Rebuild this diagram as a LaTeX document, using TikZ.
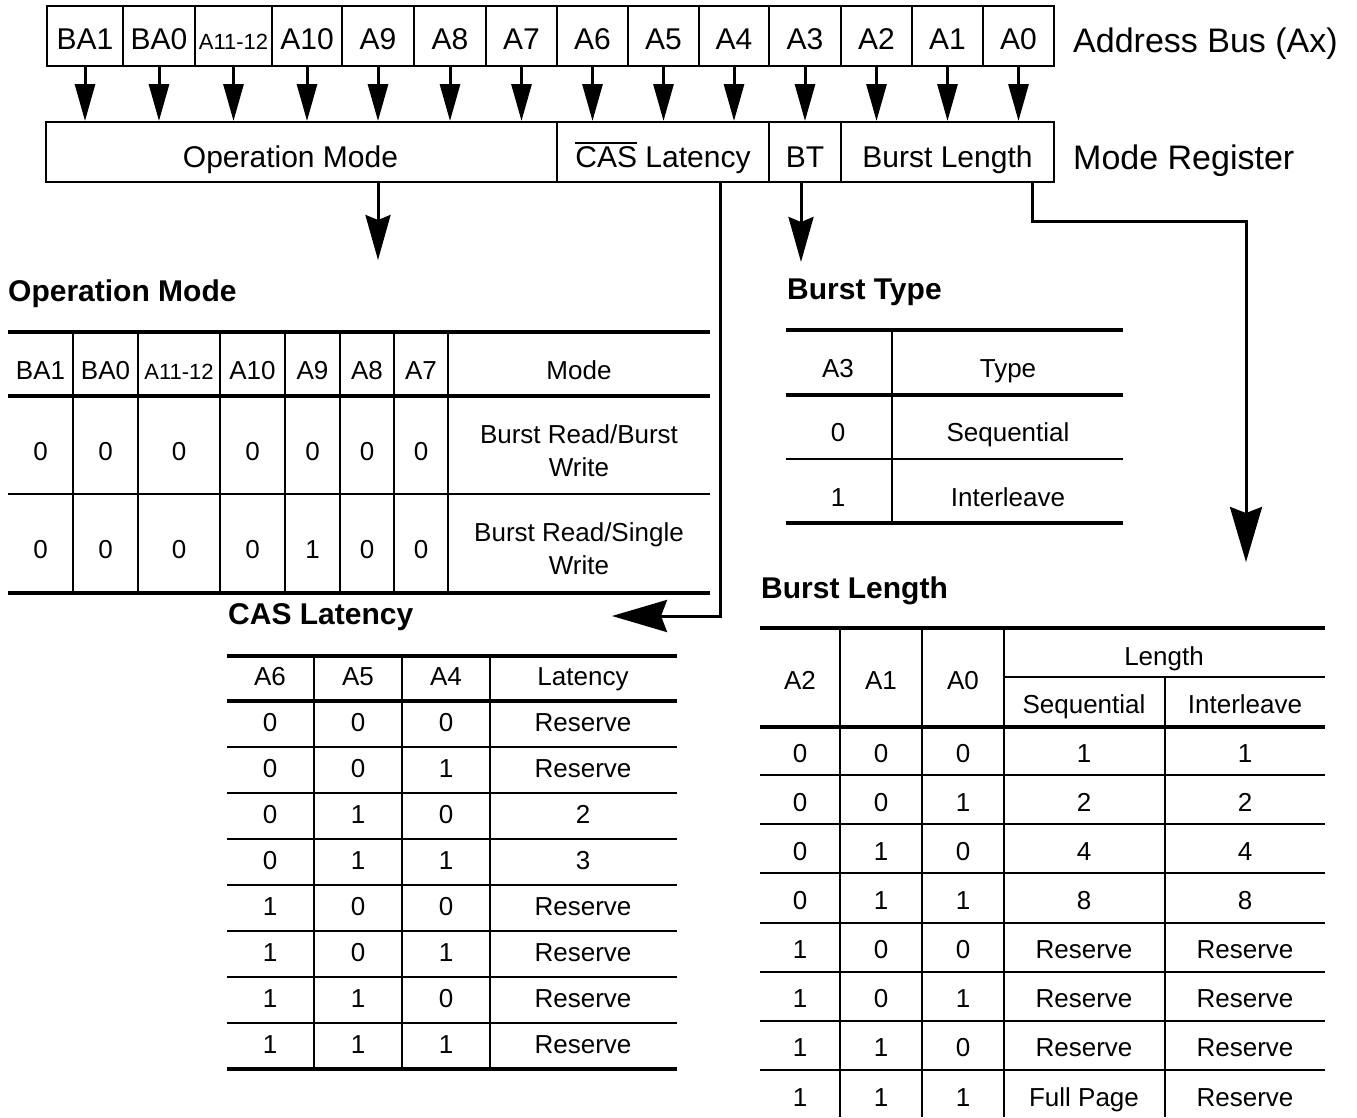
\documentclass[tikz,border=0pt]{standalone}
\usepackage{fontspec}
\setmainfont{Liberation Sans}
\usetikzlibrary{arrows.meta}
\newcommand\barred[1]{\setbox0\hbox{#1}\rlap{\rule[\dimexpr\ht0+3pt\relax]{\wd0}{2pt}}\box0\relax}
\tikzset{
  bus/.style={draw, line width=2pt, inner sep=0pt, minimum height=60pt, text height=27.5pt, text depth=0pt, font=\fontsize{30}{34}\selectfont},
  reg/.style={draw, line width=2pt, inner sep=0pt, minimum height=60pt, text height=31.5pt, text depth=0pt, font=\fontsize{30}{34}\selectfont},
  tt/.style={font=\fontsize{26}{30}\selectfont, inner sep=0pt, anchor=base, yshift=-9.3pt},
  ttl/.style={font=\bfseries\fontsize{30}{34}\selectfont, inner sep=0pt, anchor=base west, yshift=-10.7pt},
  side/.style={font=\fontsize{34}{38}\selectfont, inner sep=0pt, anchor=base west, yshift=-12.2pt},
  tabthick/.style={line width=4pt},
  tabthin/.style={line width=2pt},
  busarrow/.style={line width=3pt, -{Triangle[length=37pt,width=20pt]}},
  bigarrow/.style={line width=3pt, -{Stealth[length=45pt,width=25pt,inset=5pt]}},
  hugearrow/.style={line width=3pt, -{Stealth[length=55pt,width=32pt,inset=6pt]}},
}
\begin{document}
\begin{tikzpicture}[x=1pt,y=-1pt]
\useasboundingbox (0,0) rectangle (1357,1117);
\fill[white] (0,0) rectangle (1357,1117);

% ---------- address bus ----------
\foreach \l/\r/\t [count=\i] in {47/123/BA1,123/195/BA0,195/272/{\fontsize{22}{26}\selectfont A11-12},272/342/A10,342/414/A9,414/486/A8,486/557/A7,557/628/A6,628/699/A5,699/769/A4,769/841/A3,841/912/A2,912/983/A1,983/1054/A0}{
  \pgfmathsetmacro\w{\r-\l}
  \pgfmathsetmacro\cx{(\l+\r)/2}
  \node[bus, minimum width=\w pt] (b\i) at (\cx,36) {\t};
}
\node[side] (addrlbl) at (1073,40) {Address Bus (Ax)};

% ---------- mode register ----------
\node[reg, minimum width=511pt] (rOM) at (301.5,152) {\hspace*{-22pt}Operation Mode};
\node[reg, minimum width=212pt] (rCAS) at (663,152) {\barred{CAS} Latency};
\node[reg, minimum width=72pt] (rBT) at (805,152) {BT};
\node[reg, minimum width=213pt] (rBL) at (947.5,152) {Burst Length};
\node[side] (modelbl) at (1073,157) {Mode Register};

\foreach \i in {1,...,14}{
  \draw[busarrow] (b\i.south) -- (b\i.south |- rOM.north);
}

% ---------- lower connectors ----------
\coordinate (omEnd) at (378,260);
\draw[bigarrow] (omEnd |- rOM.south) -- (omEnd);
\coordinate (btEnd) at (801,262);
\draw[bigarrow] (btEnd |- rBT.south) -- (btEnd);
\coordinate (casX) at (720,0);
\coordinate (casEnd) at (612,616);
\draw[hugearrow] (casX |- rCAS.south) |- (casEnd);
\coordinate (blX) at (1032,0);
\coordinate (blEnd) at (1246,562);
\draw[hugearrow] (blX |- rBL.south) -- ++(0,38) -| (blEnd);

% ---------- Operation Mode table ----------
\node[ttl] (omTitle) at (8,291) {Operation Mode};
\draw[tabthick] (8,332) -- (710,332) (8,396) -- (710,396) (8,593) -- (710,593);
\draw[tabthin] (8,494) -- (710,494);
\foreach \x in {73,138,220,285,340,394,448} \draw[tabthin] (\x,332) -- (\x,593);
\foreach \x/\t [count=\i] in {40.5/BA1,105.5/BA0,179/{\fontsize{22}{26}\selectfont A11-12},252.5/A10,312.5/A9,367/A8,421/A7,579/Mode}
  \node[tt] (omh\i) at (\x,370) {\t};
\foreach \x/\v [count=\i] in {40.5/0,105.5/0,179/0,252.5/0,312.5/0,367/0,421/0}
  \node[tt] (oma\i) at (\x,451) {\v};
\foreach \x/\v [count=\i] in {40.5/0,105.5/0,179/0,252.5/0,312.5/1,367/0,421/0}
  \node[tt] (omb\i) at (\x,549) {\v};
\node[tt] (omm1) at (579,434) {Burst Read/Burst};
\node[tt] (omm2) at (579,467) {Write};
\node[tt] (omm3) at (579,532) {Burst Read/Single};
\node[tt] (omm4) at (579,565) {Write};

% ---------- Burst Type table ----------
\node[ttl] (btTitle) at (787,289) {Burst Type};
\draw[tabthick] (786,330) -- (1123,330) (786,395) -- (1123,395) (786,523) -- (1123,523);
\draw[tabthin] (786,459) -- (1123,459);
\draw[tabthin] (892,330) -- (892,523);
\node[tt] (bth1) at (838,368) {A3};
\node[tt] (bth2) at (1008,368) {Type};
\node[tt] (bta1) at (838,432) {0};
\node[tt] (bta2) at (1008,432) {Sequential};
\node[tt] (btb1) at (838,497) {1};
\node[tt] (btb2) at (1008,497) {Interleave};

% ---------- CAS Latency table ----------
\node[ttl] (casTitle) at (228,614) {CAS Latency};
\draw[tabthick] (227,656) -- (677,656) (227,701) -- (677,701) (227,1069) -- (677,1069);
\foreach \y in {747,793,839,885,931,977,1023} \draw[tabthin] (227,\y) -- (677,\y);
\foreach \x in {314,402,490} \draw[tabthin] (\x,656) -- (\x,1069);
\foreach \x/\t [count=\i] in {270/A6,358/A5,446/A4,583/Latency}
  \node[tt] (cash\i) at (\x,676) {\t};
\foreach \a/\b/\c/\v [count=\k from 0] in {0/0/0/Reserve,0/0/1/Reserve,0/1/0/2,0/1/1/3,1/0/0/Reserve,1/0/1/Reserve,1/1/0/Reserve,1/1/1/Reserve}{
  \pgfmathsetmacro\yy{722+46*\k}
  \node[tt] (casa\k) at (270,\yy) {\a};
  \node[tt] (casb\k) at (358,\yy) {\b};
  \node[tt] (casc\k) at (446,\yy) {\c};
  \node[tt] (casd\k) at (583,\yy) {\v};
}

% ---------- Burst Length table ----------
\node[ttl] (blTitle) at (761,588) {Burst Length};
\draw[tabthick] (760,628) -- (1325,628) (760,727) -- (1325,727);
\draw[tabthin] (1004,677) -- (1325,677);
\foreach \y in {775,824,873,923,972,1021,1070} \draw[tabthin] (760,\y) -- (1325,\y);
\foreach \x in {840,922,1004} \draw[tabthin] (\x,628) -- (\x,1117);
\draw[tabthin] (1165,677) -- (1165,1117);
\node[tt] (blh1) at (800,680) {A2};
\node[tt] (blh2) at (881,680) {A1};
\node[tt] (blh3) at (963,680) {A0};
\node[tt] (blh4) at (1164,656) {Length};
\node[tt] (blh5) at (1084,704) {Sequential};
\node[tt] (blh6) at (1245,704) {Interleave};
\foreach \a/\b/\c/\s/\t [count=\k from 0] in {0/0/0/1/1,0/0/1/2/2,0/1/0/4/4,0/1/1/8/8,1/0/0/Reserve/Reserve,1/0/1/Reserve/Reserve,1/1/0/Reserve/Reserve,1/1/1/Full Page/Reserve}{
  \pgfmathsetmacro\yy{753+49.1*\k}
  \node[tt] (bla\k) at (800,\yy) {\a};
  \node[tt] (blb\k) at (881,\yy) {\b};
  \node[tt] (blc\k) at (963,\yy) {\c};
  \node[tt] (bld\k) at (1084,\yy) {\s};
  \node[tt] (ble\k) at (1245,\yy) {\t};
}
\end{tikzpicture}
\end{document}
